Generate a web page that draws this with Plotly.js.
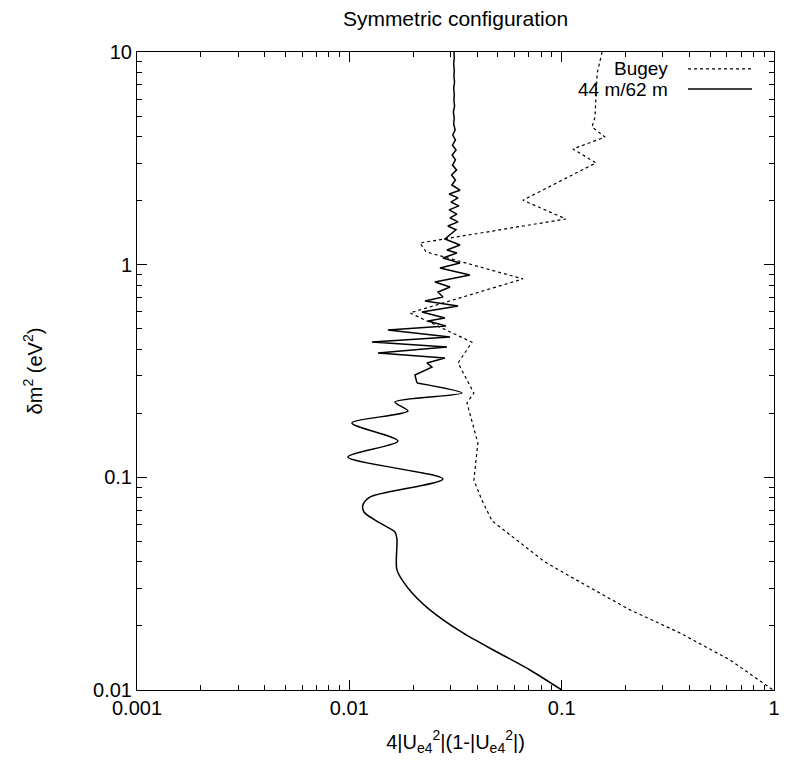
<!DOCTYPE html>
<html>
<head>
<meta charset="utf-8">
<script src="https://cdn.plot.ly/plotly-3.0.1.min.js"></script>
<style>html,body{margin:0;padding:0;background:#fff;}#chart{width:786px;height:763px;}</style>
</head>
<body>
<div id="chart"></div>
<script>
// Bugey exclusion curve
const bugeyX = [0.155, 0.147, 0.1435, 0.139, 0.160, 0.113, 0.145, 0.0657, 0.1047, 0.0215, 0.0230, 0.0657, 0.0193, 0.0378, 0.0325, 0.0386, 0.0358, 0.0403, 0.0386, 0.0421, 0.0470, 0.0834, 0.122, 0.210, 0.361, 0.621, 0.99];
const bugeyY = [10, 7.96, 4.94, 4.44, 3.98, 3.50, 3.01, 2.01, 1.64, 1.265, 1.148, 0.857, 0.593, 0.432, 0.345, 0.249, 0.224, 0.145, 0.0970, 0.0781, 0.0624, 0.040, 0.0322, 0.0238, 0.01854, 0.01384, 0.01];

// 44 m / 62 m curve, jagged upper part
const symUpperX = [0.0311, 0.0312, 0.0310, 0.0312, 0.0311, 0.0313, 0.0310, 0.0312, 0.0311, 0.0313, 0.0309, 0.0312, 0.0310, 0.0315, 0.0307, 0.0316, 0.0306, 0.0318, 0.0305, 0.0316, 0.0306, 0.0320, 0.0303, 0.0316, 0.0304, 0.0332, 0.0295, 0.0325, 0.0301, 0.0328, 0.0295, 0.0321, 0.0298, 0.0325, 0.0291, 0.0318,
  0.0282, 0.0332, 0.02882, 0.0321, 0.0276, 0.0332, 0.02672, 0.03699, 0.0253, 0.0298, 0.02615, 0.0276, 0.02271, 0.0325, 0.02198, 0.0282, 0.02346, 0.02851, 0.0152, 0.0298, 0.01278, 0.02882, 0.01364, 0.0282, 0.0232, 0.02449, 0.02037, 0.02082];
const symUpperY = [10, 9.37, 8.78, 8.23, 7.71, 7.23, 6.77, 6.35, 5.95, 5.57, 5.22, 4.89, 4.59, 4.30, 4.07, 3.86, 3.65, 3.46, 3.28, 3.11, 2.94, 2.79, 2.64, 2.50, 2.37, 2.24, 2.15, 2.06, 1.97, 1.89, 1.81, 1.73, 1.66, 1.59, 1.52, 1.46,
  1.320, 1.237, 1.172, 1.135, 1.075, 1.018, 0.965, 0.894, 0.829, 0.785, 0.744, 0.705, 0.675, 0.639, 0.599, 0.561, 0.543, 0.515, 0.493, 0.457, 0.433, 0.410, 0.384, 0.364, 0.345, 0.330, 0.303, 0.278];

// 44 m / 62 m curve, smooth lower part
const symLowerX = [0.02082, 0.0339, 0.0164, 0.01888, 0.01028, 0.01694, 0.00985, 0.0276, 0.0125, 0.01159, 0.01172, 0.01393, 0.01640, 0.01676, 0.01676, 0.01888, 0.02396, 0.03428, 0.04957, 0.0709, 0.1];
const symLowerY = [0.278, 0.249, 0.2261, 0.2051, 0.1801, 0.1482, 0.1247, 0.0982, 0.0808, 0.0741, 0.0687, 0.0610, 0.0553, 0.0513, 0.0367, 0.0302, 0.0238, 0.01854, 0.01509, 0.01242, 0.01];

const tickVals = [0.001, 0.01, 0.1, 1];
const tickText = ['0.001', '0.01', '0.1', '1'];
const xMinorVals = [0.002, 0.003, 0.004, 0.005, 0.006, 0.007, 0.008, 0.009, 0.02, 0.03, 0.04, 0.05, 0.06, 0.07, 0.08, 0.09, 0.2, 0.3, 0.4, 0.5, 0.6, 0.7, 0.8, 0.9];
const yTickVals = [0.01, 0.1, 1, 10];
const yTickText = ['0.01', '0.1', '1', '10'];
const yMinorVals = [0.02, 0.03, 0.04, 0.05, 0.06, 0.07, 0.08, 0.09, 0.2, 0.3, 0.4, 0.5, 0.6, 0.7, 0.8, 0.9, 2, 3, 4, 5, 6, 7, 8, 9];
const legendNames = ['Bugey', '44 m/62 m'];

const FONT = 'Liberation Sans, Arial, sans-serif';

const traces = [
  {x: bugeyX, y: bugeyY, mode: 'lines', name: legendNames[0], line: {color: '#000', width: 1.2, dash: 'dot'}, showlegend: false},
  {x: symUpperX, y: symUpperY, mode: 'lines', name: legendNames[1], line: {color: '#000', width: 1.5}, showlegend: false},
  {x: symLowerX, y: symLowerY, mode: 'lines', name: legendNames[1], line: {color: '#000', width: 1.5, shape: 'spline', smoothing: 0.8}, showlegend: false}
];

const axisCommon = {
  type: 'log', showline: true, mirror: 'ticks', linecolor: '#000', linewidth: 1,
  ticks: 'inside', ticklen: 10, tickcolor: '#000', tickwidth: 1,
  showgrid: false, zeroline: false, tickfont: {family: FONT, size: 20, color: '#000'}
};

const layout = {
  width: 786, height: 763,
  margin: {l: 137, r: 12, t: 52, b: 73, pad: 0},
  paper_bgcolor: '#fff', plot_bgcolor: '#fff',
  font: {family: FONT, color: '#000'},
  title: {text: 'Symmetric configuration', font: {family: FONT, size: 21, color: '#000'}, x: 0.5, xref: 'paper', xanchor: 'center', y: 0.976, yref: 'container', yanchor: 'middle'},
  xaxis: Object.assign({}, axisCommon, {
    range: [-3, 0], tickmode: 'array', tickvals: tickVals, ticktext: tickText,
    minor: {ticks: 'inside', ticklen: 5, tickcolor: '#000', tickmode: 'array', tickvals: xMinorVals, showgrid: false},
    title: {text: '4|U<sub>e4</sub><sup>2</sup>|(1-|U<sub>e4</sub><sup>2</sup>|)', font: {family: FONT, size: 20, color: '#000'}, standoff: 16}
  }),
  yaxis: Object.assign({}, axisCommon, {
    range: [-2, 1], tickmode: 'array', tickvals: yTickVals, ticktext: yTickText,
    minor: {ticks: 'inside', ticklen: 5, tickcolor: '#000', tickmode: 'array', tickvals: yMinorVals, showgrid: false},
    title: {text: 'δm<sup>2</sup> (eV<sup>2</sup>)', font: {family: FONT, size: 20, color: '#000'}, standoff: 45}
  }),
  showlegend: false,
  annotations: [
    {xref: 'paper', yref: 'paper', x: 0.8367, y: 0.9734, xanchor: 'right', yanchor: 'middle', text: legendNames[0], showarrow: false, font: {family: FONT, size: 19, color: '#000'}},
    {xref: 'paper', yref: 'paper', x: 0.8367, y: 0.9420, xanchor: 'right', yanchor: 'middle', text: legendNames[1], showarrow: false, font: {family: FONT, size: 19, color: '#000'}}
  ],
  shapes: [
    {type: 'line', xref: 'paper', yref: 'paper', x0: 0.8650, x1: 0.9655, y0: 0.9734, y1: 0.9734, line: {color: '#000', width: 1.2, dash: 'dot'}},
    {type: 'line', xref: 'paper', yref: 'paper', x0: 0.8650, x1: 0.9655, y0: 0.9420, y1: 0.9420, line: {color: '#000', width: 1.5}}
  ]
};

Plotly.newPlot('chart', traces, layout, {displayModeBar: false, staticPlot: true});
</script>
</body>
</html>
